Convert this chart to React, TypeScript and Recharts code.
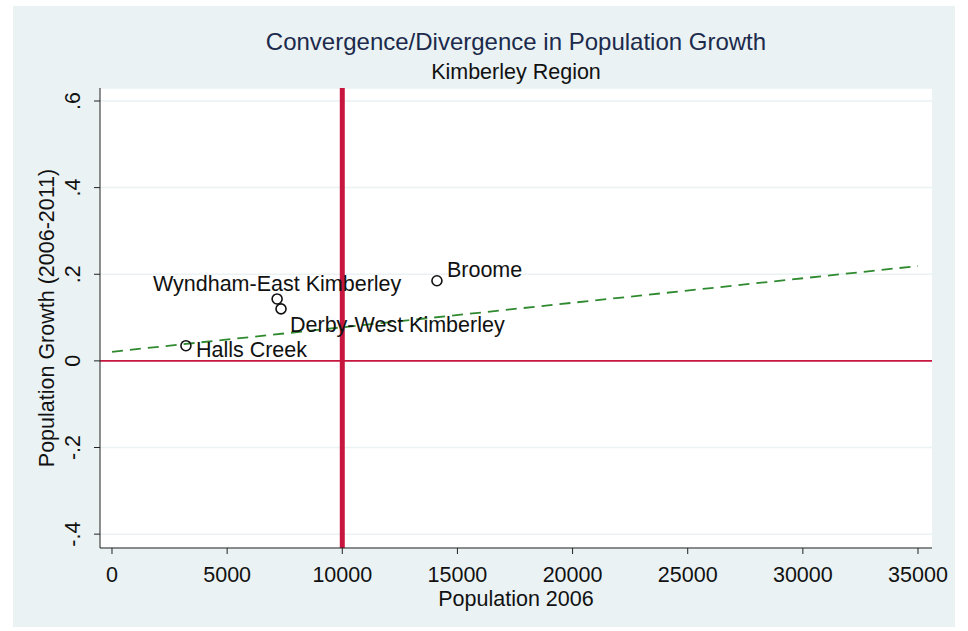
import React from "react";
import {
  ScatterChart,
  Scatter,
  XAxis,
  YAxis,
  CartesianGrid,
  ReferenceLine,
} from "recharts";

// Kimberley LGAs: 2006 population vs growth 2006-2011
const regions = ["Halls Creek", "Wyndham-East Kimberley", "Derby-West Kimberley", "Broome"];
const pop2006 = [3210, 7170, 7340, 14110];
const growth = [0.035, 0.143, 0.12, 0.185];

// fitted line endpoints
const fitX = [0, 35000];
const fitY = [0.021, 0.219];

const xTicks = [0, 5000, 10000, 15000, 20000, 25000, 30000, 35000];
const yTicks = [-0.4, -0.2, 0, 0.2, 0.4, 0.6];
const cutoff = 10000;

const points = regions.map((name, i) => ({ name, x: pop2006[i], y: growth[i] }));
const fit = fitX.map((x, i) => ({ x, y: fitY[i] }));

// stata-style clock positions for marker labels
const labelClock: Record<string, number> = {
  "Halls Creek": 3,
  "Wyndham-East Kimberley": 12,
  "Derby-West Kimberley": 4,
  Broome: 2,
};

const FONT = '"Liberation Sans", Arial, Helvetica, sans-serif';
const BG = "#eaf2f3";
const RED = "#c8173f";
const FS = 21.5;

const fmtY = (v: number) => {
  if (v === 0) return "0";
  const s = String(Math.round(v * 10) / 10);
  return s.replace("0.", ".");
};

const XTick = ({ x, y, payload }: any) => (
  <text x={x} y={y} dy={26} textAnchor="middle" fontSize={FS} fill="#111" fontFamily={FONT}>
    {payload.value}
  </text>
);

const YTick = ({ y, payload }: any) => (
  <text
    transform={`translate(73,${y}) rotate(-90)`}
    dy={7}
    textAnchor="middle"
    fontSize={FS}
    fill="#111"
    fontFamily={FONT}
  >
    {fmtY(payload.value)}
  </text>
);

const Marker = ({ cx, cy, payload }: any) => {
  const clock = labelClock[payload.name];
  let dx = 10;
  let dy = 7;
  let anchor: "start" | "middle" | "end" = "start";
  if (clock === 12) {
    dx = 0;
    dy = -8;
    anchor = "middle";
  } else if (clock === 2) {
    dy = -4;
  } else if (clock === 4) {
    dx = 9;
    dy = 23;
  } else if (clock === 3) {
    dy = 11;
  }
  return (
    <g>
      <circle cx={cx} cy={cy} r={5} fill="none" stroke="#111" strokeWidth={1.6} />
      <text x={cx + dx} y={cy + dy} textAnchor={anchor} fontSize={FS} fill="#111" fontFamily={FONT}>
        {payload.name}
      </text>
    </g>
  );
};

export default function App() {
  return (
    <div style={{ position: "absolute", left: 0, top: 0, width: 968, height: 631, fontFamily: FONT }}>
      <div style={{ position: "absolute", left: 13, top: 6, width: 942, height: 621, background: BG }} />
      <div
        style={{
          position: "absolute",
          left: 100,
          width: 832,
          top: 27,
          textAlign: "center",
          fontSize: 24,
          color: "#1c2a4c",
          lineHeight: "30px",
        }}
      >
        Convergence/Divergence in Population Growth
      </div>
      <div
        style={{
          position: "absolute",
          left: 100,
          width: 832,
          top: 59,
          textAlign: "center",
          fontSize: FS,
          color: "#111",
          lineHeight: "26px",
        }}
      >
        Kimberley Region
      </div>
      <div
        style={{
          position: "absolute",
          left: 100,
          width: 832,
          top: 588,
          textAlign: "center",
          fontSize: FS,
          color: "#111",
          lineHeight: "22px",
        }}
      >
        Population 2006
      </div>
      <div
        style={{
          position: "absolute",
          left: 47 - 200,
          top: 318 - 13,
          width: 400,
          textAlign: "center",
          fontSize: FS,
          color: "#111",
          lineHeight: "26px",
          transform: "rotate(-90deg)",
        }}
      >
        Population Growth (2006-2011)
      </div>
      <div style={{ position: "absolute", left: 0, top: 0 }}>
        <ScatterChart width={968} height={631} margin={{ top: 88, right: 36, left: 40, bottom: 43 }}>
          <CartesianGrid fill="#ffffff" stroke={BG} strokeWidth={1.5} vertical={false} />
          <XAxis
            type="number"
            dataKey="x"
            domain={[-521, 35608]}
            ticks={xTicks}
            tick={<XTick />}
            tickSize={6}
            height={40}
            stroke="#222"
            allowDataOverflow
          />
          <YAxis
            type="number"
            dataKey="y"
            domain={[-0.432, 0.63]}
            ticks={yTicks}
            tick={<YTick />}
            tickSize={6}
            width={60}
            stroke="#222"
            allowDataOverflow
          />
          <ReferenceLine y={0} stroke={RED} strokeWidth={1.6} />
          <ReferenceLine x={cutoff} stroke={RED} strokeWidth={5} />
          <Scatter
            data={fit}
            line={{ stroke: "#2f8a2f", strokeWidth: 1.8, strokeDasharray: "11 7" }}
            shape={() => null}
            isAnimationActive={false}
          />
          <Scatter data={points} shape={<Marker />} isAnimationActive={false} />
        </ScatterChart>
      </div>
    </div>
  );
}
